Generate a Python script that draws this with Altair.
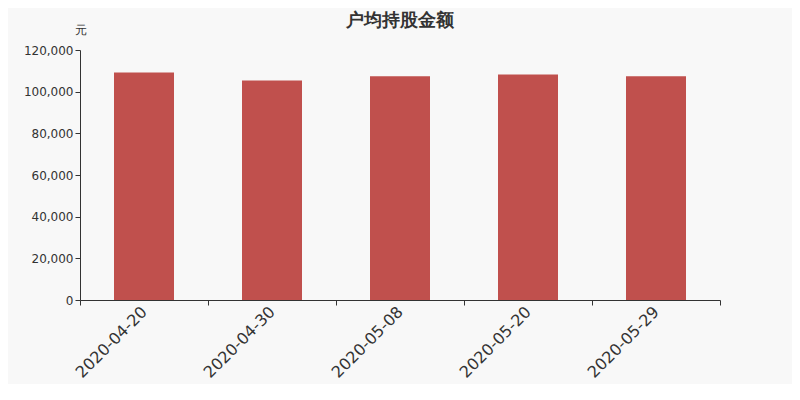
import altair as alt
import pandas as pd

dates = ["2020-04-20", "2020-04-30", "2020-05-08", "2020-05-20", "2020-05-29"]
values = [109200, 105400, 107400, 108200, 107400]

df = pd.DataFrame({"date": dates, "value": values})

bars = alt.Chart(df).mark_bar(color="#c0504d", size=60).encode(
    x=alt.X("date:N", sort=None,
            scale=alt.Scale(paddingInner=0, paddingOuter=0),
            axis=alt.Axis(title=None, tickBand="extent", labelAngle=-45,
                          labelAlign="right", labelBaseline="middle",
                          labelFontSize=16, labelColor="#333333",
                          domainColor="#333333", tickColor="#333333",
                          tickSize=5, labelPadding=4, grid=False)),
    y=alt.Y("value:Q",
            scale=alt.Scale(domain=[0, 120000], nice=False),
            axis=alt.Axis(title="元", titleAngle=0, titleX=0, titleY=-21,
                          titleAlign="center", titleBaseline="middle",
                          titleFontSize=12, titleFontWeight="normal",
                          titleColor="#333333",
                          values=[0, 20000, 40000, 60000, 80000, 100000, 120000],
                          format=",.0f", labelFontSize=12, labelColor="#333333",
                          domainColor="#333333", tickColor="#333333",
                          tickSize=5, grid=False)),
)

chart = bars.properties(
    width=640, height=250,
    title=alt.TitleParams("户均持股金额", fontSize=18, fontWeight="bold",
                          color="#333333", anchor="middle", offset=-7),
    background="#f8f8f8",
    padding={"left": 72, "top": 42, "right": 72, "bottom": 84},
    autosize=alt.AutoSizeParams(type="none"),
).configure(font="DejaVu Sans", view=alt.ViewConfig(stroke=None))

chart.save("out.html", embed_options={"renderer": "svg", "actions": False})
